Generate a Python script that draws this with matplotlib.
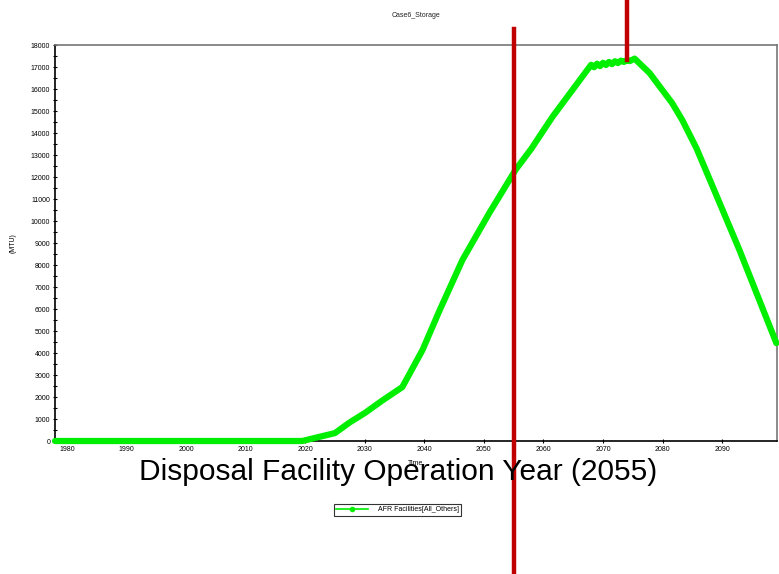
import numpy as np
import matplotlib.pyplot as plt
from matplotlib.lines import Line2D
from matplotlib.ticker import MultipleLocator
import matplotlib.transforms as mtransforms

plt.rcParams["font.family"] = ["Liberation Sans", "DejaVu Sans"]

# storage inventory at AFR facilities (MTU) by year
years = [1978, 2019.5, 2025, 2027.5, 2030, 2033, 2036.3, 2039.7, 2042.5, 2046.4, 2050.9,
         2055.3, 2058, 2061.5, 2068.0, 2068.5, 2069.0, 2069.5, 2070.0, 2070.5, 2071.0,
         2071.5, 2072.0, 2072.5, 2073.0, 2073.5, 2074.0, 2074.5, 2075.3,
         2077.8, 2081.6, 2083.3, 2085.7, 2088.2, 2092.9, 2099.1]
mtu = [0, 0, 360, 850, 1270, 1850, 2450, 4140, 5900, 8230, 10360,
       12320, 13300, 14730, 17100, 16990, 17150, 17040, 17190, 17090, 17230,
       17130, 17260, 17180, 17290, 17230, 17310, 17270, 17380,
       16730, 15360, 14590, 13300, 11700, 8680, 4450]

series_name = "AFR Facilities[All_Others]"
chart_title = "Case6_Storage"
big_label = "Disposal Facility Operation Year (2055)"
disposal_year = 2055
peak_year = 2074

green = "#00ee00"
red = "#c00000"

fig = plt.figure(figsize=(7.79, 5.74), dpi=100)
ax = fig.add_axes([0.0706, 0.2317, 0.9268, 0.6899])

ax.plot(years, mtu, color=green, lw=4.5, solid_joinstyle="round", solid_capstyle="round",
        clip_on=False, zorder=3)

ax.set_xlim(1978, 2099.2)
ax.set_ylim(0, 18000)
ax.xaxis.set_major_locator(MultipleLocator(10))
ax.yaxis.set_major_locator(MultipleLocator(1000))
ax.yaxis.set_minor_locator(MultipleLocator(500))
ax.tick_params(axis="both", labelsize=5, length=3, width=0.8, direction="inout", pad=2)
ax.tick_params(axis="y", which="minor", length=3, width=0.8, direction="inout")
for s in ["top", "right"]:
    ax.spines[s].set_color("#777777")
    ax.spines[s].set_linewidth(1.2)
for s in ["left", "bottom"]:
    ax.spines[s].set_color("black")
    ax.spines[s].set_linewidth(1.2)

ax.set_title(chart_title, fontsize=5, pad=20, color="#222222")
ax.set_xlabel("Time", fontsize=5, labelpad=5)
ax.set_ylabel("(MTU)", fontsize=5, labelpad=10)

fig.text(0.511, 0.178, big_label, fontsize=21.5, ha="center", va="center")

handle = Line2D([], [], color=green, lw=1.2, marker="o", markersize=3)
leg = fig.legend([handle], [series_name], loc="center", bbox_to_anchor=(0.5105, 0.1115),
                 fontsize=5, frameon=True, fancybox=False, handlelength=4.5,
                 borderpad=0.3, handletextpad=1.5, borderaxespad=0)
leg.get_frame().set_edgecolor("black")
leg.get_frame().set_linewidth(0.8)

# marker lines for the disposal start and the storage peak
trans = mtransforms.blended_transform_factory(ax.transData, fig.transFigure)
ax.add_line(Line2D([disposal_year, disposal_year], [0.0, 0.9495], transform=trans,
                   color=red, lw=3.2, clip_on=False, zorder=5))
ax.add_line(Line2D([peak_year, peak_year], [0.8955, 1.0], transform=trans,
                   color=red, lw=3.2, clip_on=False, zorder=5))

fig.savefig("out.png", dpi=100)
